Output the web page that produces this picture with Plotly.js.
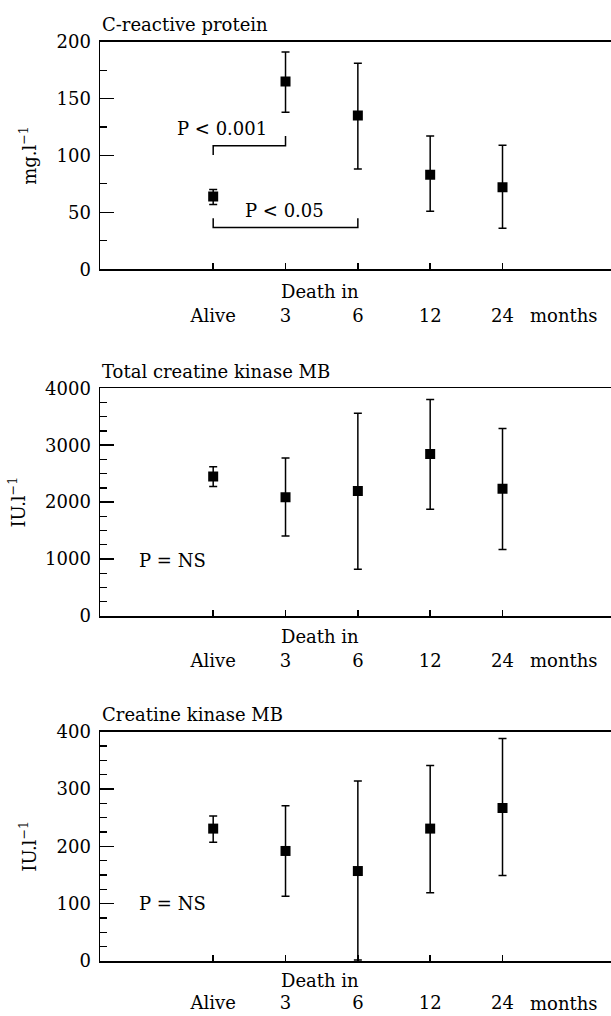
<!DOCTYPE html>
<html>
<head>
<meta charset="utf-8">
<script src="https://cdn.plot.ly/plotly-3.0.1.min.js"></script>
<style>body{margin:0;padding:0;background:#fff}#chart{width:611px;height:1016px}</style>
</head>
<body>
<div id="chart"></div>
<script>
// ---- data ----
var groupPos = [1, 2, 3, 4, 5];
var groupLabels = ['Alive', '3', '6', '12', '24'];

var crpMean = [64, 165, 135, 83, 72];
var crpPlus = [6, 26, 46, 34, 37];
var crpMinus = [7, 27, 47, 32, 36];

var ckTotalMean = [2450, 2085, 2195, 2845, 2235];
var ckTotalPlus = [170, 690, 1365, 960, 1060];
var ckTotalMinus = [175, 680, 1375, 970, 1065];

var ckMbMean = [231, 192, 157, 231, 267];
var ckMbPlus = [22, 79, 157, 110, 121];
var ckMbMinus = [24, 79, 155, 112, 118];

// significance brackets (x in group positions, y in mg/l)
var bracket1X = [1, 1, 2, 2];
var bracket1Y = [100.5, 108.6, 108.6, 117];
var bracket2X = [1, 1, 3, 3];
var bracket2Y = [44.8, 36.6, 36.6, 44.8];

var F = 'DejaVu Serif, Liberation Serif, serif';
var FS = 18;

function pts(x, y, p, m, xa, ya) {
  return {
    type: 'scatter', mode: 'markers', x: x, y: y, xaxis: xa, yaxis: ya,
    marker: {symbol: 'square', size: 10, color: '#000'},
    error_y: {type: 'data', symmetric: false, array: p, arrayminus: m, color: '#000', thickness: 1.5, width: 4},
    showlegend: false, hoverinfo: 'skip'
  };
}
function line(x, y, xa, ya) {
  return {type: 'scatter', mode: 'lines', x: x, y: y, xaxis: xa, yaxis: ya,
    line: {color: '#000', width: 1.5}, showlegend: false, hoverinfo: 'skip'};
}

var data = [
  pts(groupPos, crpMean, crpPlus, crpMinus, 'x', 'y'),
  line(bracket1X, bracket1Y, 'x', 'y'),
  line(bracket2X, bracket2Y, 'x', 'y'),
  pts(groupPos, ckTotalMean, ckTotalPlus, ckTotalMinus, 'x2', 'y2'),
  pts(groupPos, ckMbMean, ckMbPlus, ckMbMinus, 'x3', 'y3')
];

function xax(anchor, standoff) {
  return {
    anchor: anchor, domain: [0, 1], range: [-0.565, 6.5],
    tickmode: 'array', tickvals: groupPos, ticktext: groupLabels,
    ticks: 'inside', ticklen: 6, tickwidth: 1.5, tickcolor: '#000',
    showline: true, linecolor: '#000', linewidth: 1.5, mirror: true,
    showgrid: false, zeroline: false, ticklabelstandoff: standoff,
    tickfont: {family: F, size: FS, color: '#000'}, fixedrange: true
  };
}
function yax(anchor, dom, max, dt, mdt, title) {
  return {
    anchor: anchor, domain: dom, range: [0, max],
    tick0: 0, dtick: dt, ticks: 'inside', ticklen: 14, tickwidth: 1.5, tickcolor: '#000',
    minor: {dtick: mdt, ticks: 'inside', ticklen: 7, tickwidth: 1.2, tickcolor: '#000', showgrid: false},
    showline: true, linecolor: '#000', linewidth: 1.5,
    showgrid: false, zeroline: false, ticklabelstandoff: 4,
    tickfont: {family: F, size: FS, color: '#000'},
    title: {text: title, font: {family: F, size: FS, color: '#000'}, standoff: 15},
    fixedrange: true
  };
}

function ann(text, x, y, xref, yref, xanchor, yshift) {
  return {text: text, x: x, y: y, xref: xref, yref: yref, xanchor: xanchor, yanchor: 'middle',
    yshift: yshift || 0, showarrow: false, font: {family: F, size: FS, color: '#000'}};
}
var anns = [
  ann('C-reactive protein', 0, 0.959, 'paper', 'paper', 'left', 17),
  ann('Total creatine kinase MB', 0, 0.6178, 'paper', 'paper', 'left', 17),
  ann('Creatine kinase MB', 0, 0.2798, 'paper', 'paper', 'left', 17),
  ann('P < 0.001', 1.12, 124, 'x', 'y', 'center'),
  ann('P < 0.05', 1.99, 51.5, 'x', 'y', 'center'),
  ann('P = NS', 0.44, 970, 'x2', 'y2', 'center'),
  ann('P = NS', 0.44, 100, 'x3', 'y3', 'center')
];
var offs = [[-22, -48], [-20, -46], [-19, -44]];
[['x', 'y'], ['x2', 'y2'], ['x3', 'y3']].forEach(function (p, i) {
  anns.push(ann('Death in', 2.48, 0, p[0], p[1] + ' domain', 'center', offs[i][0]));
  anns.push(ann('months', 5.35, 0, p[0], p[1] + ' domain', 'left', offs[i][1] + 2));
});

var layout = {
  width: 611, height: 1016,
  margin: {l: 100, r: 0, t: 0, b: 0},
  paper_bgcolor: '#fff', plot_bgcolor: '#fff',
  font: {family: F, size: FS, color: '#000'},
  xaxis: xax('y', 30), xaxis2: xax('y2', 28), xaxis3: xax('y3', 25),
  yaxis: yax('x', [0.735, 0.959], 200, 50, 25, 'mg.l<sup>−1</sup>'),
  yaxis2: yax('x2', [0.3937, 0.6178], 4000, 1000, 250, 'IU.l<sup>−1</sup>'),
  yaxis3: yax('x3', [0.0541, 0.2798], 400, 100, 25, 'IU.l<sup>−1</sup>'),
  annotations: anns,
  showlegend: false
};

Plotly.newPlot('chart', data, layout, {displayModeBar: false, staticPlot: true});
</script>
</body>
</html>
